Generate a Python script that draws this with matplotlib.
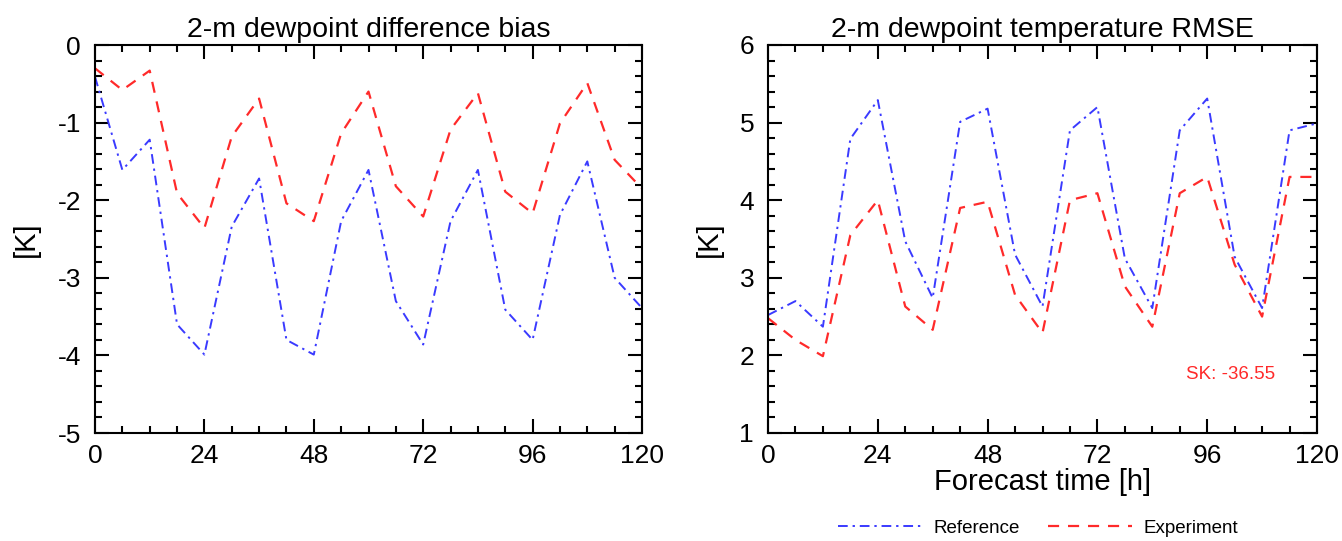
import numpy as np
import matplotlib
matplotlib.use("Agg")
import matplotlib.pyplot as plt
from matplotlib.ticker import MultipleLocator

plt.rcParams['font.family'] = ['Liberation Sans', 'DejaVu Sans']
plt.rcParams['axes.unicode_minus'] = False

# forecast lead times [h]
lead = np.arange(0, 121, 6)

# 2-m dewpoint bias [K]
bias_ref = [-0.41, -1.61, -1.22, -3.60, -3.99, -2.34, -1.72, -3.80, -3.99, -2.27, -1.61,
            -3.30, -3.86, -2.27, -1.61, -3.41, -3.80, -2.19, -1.50, -3.00, -3.39]
bias_exp = [-0.30, -0.58, -0.33, -1.91, -2.36, -1.18, -0.69, -2.04, -2.27, -1.14, -0.60,
            -1.82, -2.21, -1.09, -0.62, -1.89, -2.17, -1.01, -0.49, -1.48, -1.85]

# 2-m dewpoint RMSE [K]
rmse_ref = [2.52, 2.70, 2.37, 4.79, 5.29, 3.47, 2.74, 5.01, 5.18, 3.30, 2.63,
            4.90, 5.20, 3.25, 2.61, 4.90, 5.31, 3.27, 2.61, 4.90, 4.99]
rmse_exp = [2.48, 2.20, 1.99, 3.55, 4.00, 2.63, 2.33, 3.90, 3.98, 2.78, 2.29,
            4.00, 4.09, 2.89, 2.37, 4.09, 4.30, 3.17, 2.50, 4.30, 4.30]

skill_text = "SK: -36.55"

blue = '#3a3aff'
red = '#ff2a2a'

W, H = 1342, 541
fig = plt.figure(figsize=(W / 100, H / 100), dpi=100)
ax1 = fig.add_axes([95/W, (H - 433)/H, 547/W, 388/H])
ax2 = fig.add_axes([768/W, (H - 433)/H, 549/W, 388/H])


def style_axes(ax, ylim):
    ax.set_xlim(0, 120)
    ax.set_ylim(*ylim)
    ax.xaxis.set_major_locator(MultipleLocator(24))
    ax.xaxis.set_minor_locator(MultipleLocator(6))
    ax.yaxis.set_major_locator(MultipleLocator(1))
    ax.yaxis.set_minor_locator(MultipleLocator(0.2))
    ax.tick_params(which='both', direction='in', top=True, right=True, width=1.5,
                   labelsize=19)
    ax.tick_params(axis='x', which='both', pad=8)
    ax.tick_params(axis='y', which='both', pad=10)
    ax.tick_params(which='major', length=10)
    ax.tick_params(which='minor', length=5)
    for s in ax.spines.values():
        s.set_linewidth(1.5)
    ax.set_ylabel('[K]', fontsize=21)


ax1.plot(lead, bias_ref, color=blue, lw=1.4, dashes=(5, 2.5, 1.2, 2.5), label='Reference')
ax1.plot(lead, bias_exp, color=red, lw=1.6, dashes=(5, 4), label='Experiment')
style_axes(ax1, (-5, 0))
ax1.set_title('2-m dewpoint difference bias', fontsize=20.5, pad=6)
ax1.yaxis.set_label_coords(-0.10, 0.5)

ax2.plot(lead, rmse_ref, color=blue, lw=1.4, dashes=(5, 2.5, 1.2, 2.5))
ax2.plot(lead, rmse_exp, color=red, lw=1.6, dashes=(5, 4))
style_axes(ax2, (1, 6))
ax2.set_title('2-m dewpoint temperature RMSE', fontsize=20.5, pad=6)
ax2.set_xlabel('Forecast time [h]', fontsize=21, labelpad=0)
ax2.yaxis.set_label_coords(-0.082, 0.5)
ax2.text(0.843, 0.15, skill_text, transform=ax2.transAxes, color=red,
         fontsize=13.5, ha='center', va='center')

h, l = ax1.get_legend_handles_labels()
fig.legend(h, l, loc='center', bbox_to_anchor=(1038/W, 1 - 528/H), ncol=2,
           frameon=False, fontsize=13.5, handlelength=4.5, handletextpad=0.6,
           columnspacing=1.5)

fig.savefig('out.png', dpi=100)
